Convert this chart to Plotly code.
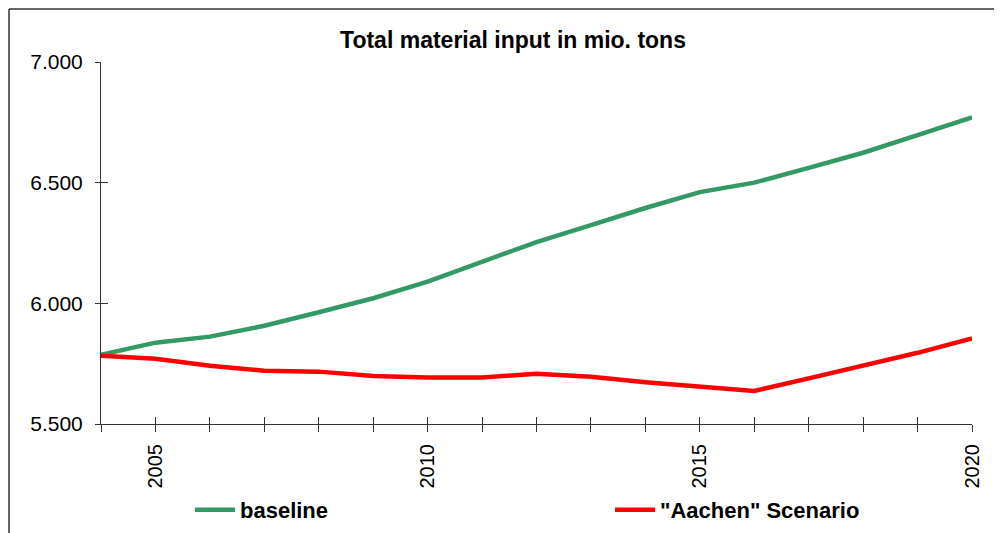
import plotly.graph_objects as go

years = list(range(2004, 2021))
baseline = [5787, 5837, 5862, 5907, 5963, 6021, 6090, 6171, 6254, 6324, 6395,
            6461, 6500, 6561, 6624, 6697, 6771]
aachen = [5783, 5770, 5741, 5721, 5717, 5699, 5693, 5693, 5708, 5696, 5673,
          5657, 5637, 5689, 5743, 5795, 5855]
y_ticks = [5500, 6000, 6500, 7000]
y_labels = ["5.500", "6.000", "6.500", "7.000"]
x_labels = [str(y) if y % 5 == 0 else "" for y in years]

FONT = "Liberation Sans, Arial, sans-serif"

fig = go.Figure()
fig.add_trace(go.Scatter(x=years, y=baseline, mode="lines", name="<b>baseline</b>",
                         line=dict(color="#339966", width=4.5), legend="legend"))
# second series sits on overlaid axes with identical ranges (used for crossing ticks)
fig.add_trace(go.Scatter(x=years, y=aachen, mode="lines", name="<b>\"Aachen\" Scenario</b>",
                         line=dict(color="#FF0000", width=4.5), legend="legend2",
                         xaxis="x2", yaxis="y2"))

OFF = 8  # page body margin
W, H = 1002 - OFF, 533 - OFF
L, T = 101 - OFF, 62 - OFF
R, B = 30, 109
pw = W - L - R
ph = H - T - B


def px_x(x):
    return (x - OFF - L) / pw


def px_y(y):
    return (T + ph - (y - OFF)) / ph


leg_common = dict(orientation="h", xanchor="left", yanchor="middle",
                  y=px_y(510), itemwidth=40,
                  font=dict(size=22, family=FONT, color="black"),
                  bgcolor="rgba(0,0,0,0)")

fig.update_layout(
    width=W, height=H,
    margin=dict(l=L, r=R, t=T, b=B, autoexpand=False),
    paper_bgcolor="white", plot_bgcolor="white",
    font=dict(family=FONT, color="black"),
    title=dict(text="<b>Total material input in mio. tons</b>",
               font=dict(size=23, family=FONT, color="black"),
               xref="paper", x=px_x(513), xanchor="center",
               yref="container", y=1 - (40 - OFF) / H, yanchor="middle"),
    showlegend=True,
    legend=dict(x=px_x(190), **leg_common),
    legend2=dict(x=px_x(610), **leg_common),
    xaxis=dict(range=[2004, 2020], tickmode="array", tickvals=years, ticktext=x_labels,
               tickangle=-90, ticks="outside", ticklen=7, tickwidth=1, tickcolor="#333",
               ticklabelstandoff=4,
               showline=True, linecolor="#333", linewidth=1, showgrid=False, zeroline=False,
               automargin=False,
               tickfont=dict(size=20, family=FONT, color="black")),
    yaxis=dict(range=[5500, 7000], tickmode="array", tickvals=y_ticks, ticktext=y_labels,
               ticks="outside", ticklen=5, tickwidth=1, tickcolor="#333",
               ticklabelstandoff=8,
               showline=True, linecolor="#333", linewidth=1, showgrid=False, zeroline=False,
               automargin=False,
               tickfont=dict(size=21, family=FONT, color="black")),
    xaxis2=dict(overlaying="x", anchor="y2", side="bottom", range=[2004, 2020],
                tickmode="array", tickvals=years, ticks="inside", ticklen=7,
                tickwidth=1, tickcolor="#333", showticklabels=False, showline=False,
                showgrid=False, zeroline=False, automargin=False),
    yaxis2=dict(overlaying="y", anchor="x2", side="left", range=[5500, 7000],
                tickmode="array", tickvals=y_ticks, ticks="inside", ticklen=7,
                tickwidth=1, tickcolor="#333", showticklabels=False, showline=False,
                showgrid=False, zeroline=False, automargin=False),
)

# outer chart frame (left and top edges visible in the reference)
fx = px_x(9)
fy = px_y(9)
fig.add_shape(type="line", xref="paper", yref="paper", x0=fx, x1=fx, y0=fy, y1=-1,
              line=dict(color="#333", width=1.5))
fig.add_shape(type="line", xref="paper", yref="paper", x0=fx, x1=2, y0=fy, y1=fy,
              line=dict(color="#333", width=1.5))

fig.write_html("out.html")
